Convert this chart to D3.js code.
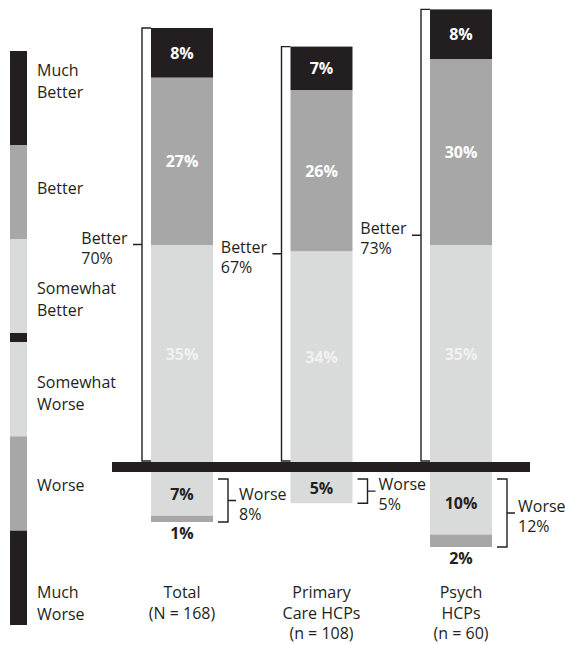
<html>
<head>
<script src="https://d3js.org/d3.v7.min.js"></script>
<style>
  body{ margin:0; background:#fff; }
  text{ font-family:"Open Sans", "DejaVu Sans", sans-serif; fill:#231f20; }
</style>
</head>
<body>
<div id="chart"></div>
<script>
// categories and values (percent of respondents)
var categories = ["Total", "Primary Care HCPs", "Psych HCPs"];
var categoryLines = [["Total", "(N = 168)"], ["Primary", "Care HCPs", "(n = 108)"], ["Psych", "HCPs", "(n = 60)"]];
var muchBetter = [8, 7, 8];
var better = [27, 26, 30];
var somewhatBetter = [35, 34, 35];
var somewhatWorse = [7, 5, 10];
var worse = [1, 0, 2];
var muchWorse = [0, 0, 0];
var betterTotal = [70, 67, 73];
var worseTotal = [8, 5, 12];
var legendLevels = ["Much Better", "Better", "Somewhat Better", "Somewhat Worse", "Worse", "Much Worse"];
var legendLines = [["Much", "Better"], ["Better"], ["Somewhat", "Better"], ["Somewhat", "Worse"], ["Worse"], ["Much", "Worse"]];
var legendLabelY = [70, 188, 288, 382, 485, 592];

var width = 565, height = 645;
var ink = "#231f20";
var color = d3.scaleOrdinal()
    .domain(legendLevels)
    .range([ink, "#a7a7a7", "#d9dada", "#d9dada", "#a7a7a7", ink]);

var svg = d3.select("#chart").append("svg")
    .attr("width", width).attr("height", height);

var x = d3.scalePoint().domain(categories).range([182, 461]);
var barW = 62;
var zeroTop = 462, zeroBottom = 472;
var yUp = d3.scaleLinear().domain([0, 70]).range([zeroTop, zeroTop - 434]);
var yDown = d3.scaleLinear().domain([0, 12]).range([zeroBottom, zeroBottom + 75]);

// legend strip
var legTop = d3.scaleBand().domain(legendLevels.slice(0, 3)).range([51, 333]);
var legBot = d3.scaleBand().domain(legendLevels.slice(3)).range([342, 625]);
svg.append("rect").attr("x", 10).attr("y", 333).attr("width", 17).attr("height", 9).attr("fill", ink);
legendLevels.forEach(function(l, i){
  var s = i < 3 ? legTop : legBot;
  svg.append("rect").attr("x", 10).attr("y", s(l)).attr("width", 17)
     .attr("height", s.bandwidth()).attr("fill", color(l));
  var t = svg.append("text").attr("x", 37).attr("y", legendLabelY[i] + 6).style("font-size", "16px");
  legendLines[i].forEach(function(line, j){
    t.append("tspan").attr("x", 37).attr("dy", j ? 22 : 0).text(line);
  });
});

// stacked bars
var upSeries = [["Somewhat Better", somewhatBetter], ["Better", better], ["Much Better", muchBetter]];
var downSeries = [["Somewhat Worse", somewhatWorse], ["Worse", worse], ["Much Worse", muchWorse]];

categories.forEach(function(c, i){
  var cx = x(c), left = cx - barW / 2;
  var g = svg.append("g");
  var acc = 0;
  upSeries.forEach(function(s){
    var v = s[1][i];
    if (!v) return;
    var y0 = yUp(acc), y1 = yUp(acc + v);
    g.append("rect").attr("x", left).attr("y", y1).attr("width", barW)
      .attr("height", y0 - y1).attr("fill", color(s[0]));
    g.append("text").attr("x", cx).attr("y", (y0 + y1) / 2 + 6)
      .attr("text-anchor", "middle").style("font-size", "16px").style("font-weight", "bold")
      .style("fill", s[0] == "Somewhat Better" ? "#f1f1f1" : "#fff")
      .text(v + "%");
    acc += v;
  });
  acc = 0;
  downSeries.forEach(function(s){
    var v = s[1][i];
    if (!v) return;
    var y0 = yDown(acc), y1 = yDown(acc + v);
    g.append("rect").attr("x", left).attr("y", y0).attr("width", barW)
      .attr("height", y1 - y0).attr("fill", color(s[0]));
    var ty = (y1 - y0) < 20 ? y1 + 17 : (y0 + y1) / 2 + 6;
    g.append("text").attr("x", cx).attr("y", ty)
      .attr("text-anchor", "middle").style("font-size", "16px").style("font-weight", "bold")
      .text(v + "%");
    acc += v;
  });

  // "Better" bracket on the left
  var bTop = yUp(betterTotal[i]), bBot = zeroTop - 1, vx = left - 9;
  var bMid = (bTop + bBot) / 2;
  g.append("path")
    .attr("d", "M" + left + "," + bTop + "H" + vx + "V" + bBot + "H" + left + "M" + vx + "," + bMid + "h-9")
    .attr("fill", "none").attr("stroke", ink).attr("stroke-width", 1.4);
  var bl = g.append("text").style("font-size", "16px");
  bl.append("tspan").attr("x", 0).attr("y", bMid - 1).text("Better");
  bl.append("tspan").attr("x", 0).attr("y", bMid + 19).text(betterTotal[i] + "%");
  var bw = bl.node().getBBox().width;
  bl.attr("transform", "translate(" + (vx - 9 - 5 - bw) + ",0)");

  // "Worse" bracket on the right
  var right = left + barW;
  var wTop = zeroBottom + 7, wBot = yDown(worseTotal[i]), wx = right + 15;
  var wMid = (wTop + wBot) / 2;
  g.append("path")
    .attr("d", "M" + (right + 5) + "," + wTop + "H" + wx + "V" + wBot + "H" + (right + 5) + "M" + wx + "," + wMid + "h8")
    .attr("fill", "none").attr("stroke", ink).attr("stroke-width", 1.4);
  var wl = g.append("text").style("font-size", "16px");
  wl.append("tspan").attr("x", wx + 11).attr("y", wMid - 1).text("Worse");
  wl.append("tspan").attr("x", wx + 11).attr("y", wMid + 19).text(worseTotal[i] + "%");

  // category label
  var cl = g.append("text").attr("text-anchor", "middle").style("font-size", "16px");
  categoryLines[i].forEach(function(line, j){
    cl.append("tspan").attr("x", cx).attr("y", 598 + j * 20.5).text(line);
  });
});

// zero line
svg.append("rect").attr("x", 112).attr("y", zeroTop).attr("width", 530 - 112)
  .attr("height", zeroBottom - zeroTop).attr("fill", ink);
</script>
</body>
</html>
